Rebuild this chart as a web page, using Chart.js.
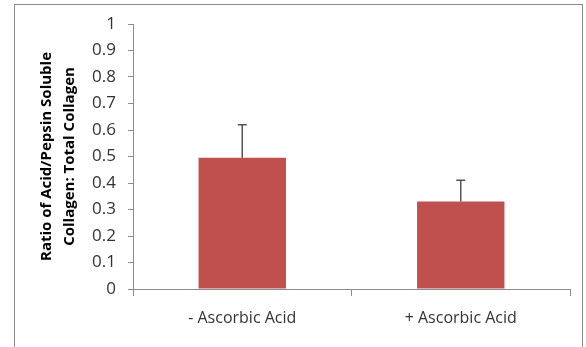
<!DOCTYPE html>
<html>
<head>
<meta charset="utf-8">
<script src="https://cdn.jsdelivr.net/npm/chart.js@4"></script>
<style>
  html, body { margin: 0; padding: 0; background: #fff; }
  #wrap { position: relative; width: 586px; height: 347px; overflow: hidden; }
  #frame { position: absolute; left: 14px; top: 4px; width: 569px; height: 400px; border: 1px solid #8c8c8c; box-sizing: border-box; }
  canvas { position: absolute; left: 0; top: 0; }
</style>
</head>
<body>
<div id="wrap">
  <div id="frame"></div>
  <canvas id="c" width="586" height="347"></canvas>
</div>
<script>
const categories = ['- Ascorbic Acid', '+ Ascorbic Acid'];
const ratioValues = [0.495, 0.33];
const errorPlus = [0.125, 0.08];
const yTitleLines = ['Ratio of Acid/Pepsin Soluble', 'Collagen: Total Collagen'];

const errorBarPlugin = {
  id: 'errorBars',
  afterDatasetsDraw(chart) {
    const ctx = chart.ctx;
    const meta = chart.getDatasetMeta(0);
    const y = chart.scales.y;
    ctx.save();
    ctx.strokeStyle = '#555555';
    ctx.lineWidth = 1.5;
    meta.data.forEach((bar, i) => {
      const top = y.getPixelForValue(ratioValues[i] + errorPlus[i]);
      const base = y.getPixelForValue(ratioValues[i]);
      ctx.beginPath();
      ctx.moveTo(bar.x, base);
      ctx.lineTo(bar.x, top);
      ctx.moveTo(bar.x - 4.5, top);
      ctx.lineTo(bar.x + 4.5, top);
      ctx.stroke();
    });
    ctx.restore();
  }
};

new Chart(document.getElementById('c'), {
  type: 'bar',
  data: {
    labels: categories,
    datasets: [{
      data: ratioValues,
      backgroundColor: '#C0504D',
      borderWidth: 0,
      barPercentage: 0.4,
      categoryPercentage: 1.0
    }]
  },
  options: {
    responsive: false,
    animation: false,
    devicePixelRatio: 1,
    layout: { padding: { left: 14, top: 24, right: 16, bottom: 0 } },
    plugins: { legend: { display: false }, tooltip: { enabled: false } },
    scales: {
      x: {
        grid: { display: true, drawOnChartArea: false, drawTicks: true, tickLength: 7, color: '#8c8c8c', offset: true },
        border: { display: true, color: '#8c8c8c', width: 1 },
        ticks: { color: '#333333', font: { family: 'Open Sans', size: 16 }, padding: 13, maxRotation: 0 },
        afterFit(scale) { scale.height = 58; }
      },
      y: {
        min: 0, max: 1,
        grid: { display: true, drawOnChartArea: false, drawTicks: true, tickLength: 5, color: '#8c8c8c' },
        border: { display: true, color: '#8c8c8c', width: 1 },
        ticks: { stepSize: 0.1, color: '#333333', font: { family: 'Open Sans', size: 17 }, padding: 12,
                 callback: (v) => Number(v.toFixed(1)).toString() },
        title: { display: true, text: yTitleLines, color: '#000', font: { family: 'Open Sans', size: 15, weight: 'bold', lineHeight: 1.53 }, padding: { top: 21, bottom: 0 } },
        afterFit(scale) { scale.width = 119; }
      }
    }
  },
  plugins: [errorBarPlugin]
});
</script>
</body>
</html>
